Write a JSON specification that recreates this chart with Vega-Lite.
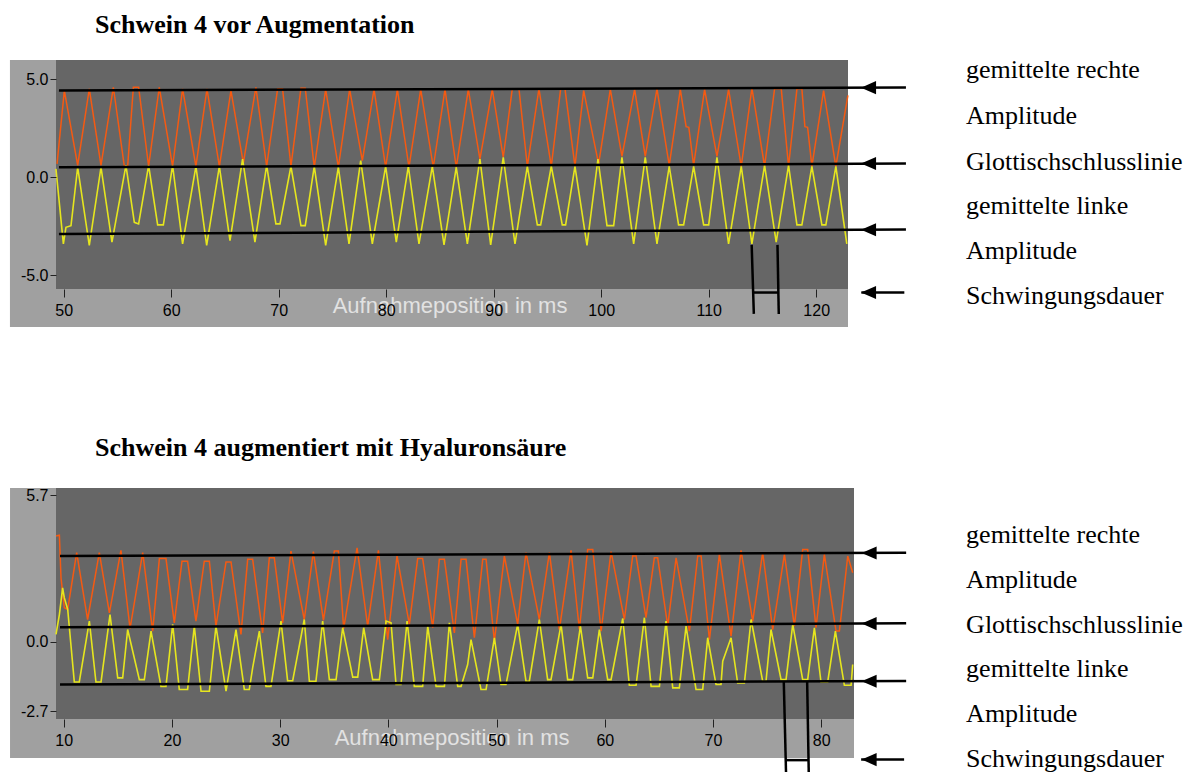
{
"$schema": "https://vega.github.io/schema/vega-lite/v6.json",
"background": "white",
"padding": {"left": 9, "top": 12, "right": 0, "bottom": 0},
"autosize": {"type": "pad"},
"spacing": 107,
"config": {
  "view": {"stroke": null, "fill": null},
  "axis": {"domain": false, "grid": false, "tickColor": "#222222", "labelColor": "black", "labelFont": "Liberation Sans", "labelFontSize": 16, "labelFontWeight": "normal", "labelOverlap": false},
  "title": {"font": "Liberation Serif", "fontSize": 26, "fontWeight": "bold", "color": "black", "anchor": "start", "frame": "group", "baseline": "alphabetic"},
  "text": {"font": "Liberation Serif", "fontSize": 26, "color": "black"}
},
"datasets": {
  "top_r": [{"t":49.38,"v":0.68},{"t":50.06,"v":4.42},{"t":51.30,"v":0.60},{"t":52.38,"v":4.51},{"t":53.47,"v":0.60},{"t":54.62,"v":4.59},{"t":55.64,"v":0.56},{"t":55.95,"v":0.56},{"t":56.48,"v":4.59},{"t":56.97,"v":4.59},{"t":57.90,"v":0.56},{"t":58.89,"v":4.59},{"t":60.13,"v":0.56},{"t":61.06,"v":4.51},{"t":62.30,"v":0.56},{"t":63.33,"v":4.51},{"t":64.48,"v":0.56},{"t":65.56,"v":4.42},{"t":66.71,"v":0.72},{"t":67.88,"v":4.59},{"t":68.88,"v":0.56},{"t":69.90,"v":4.51},{"t":70.36,"v":4.51},{"t":71.14,"v":0.56},{"t":72.07,"v":4.54},{"t":72.47,"v":4.54},{"t":73.31,"v":0.51},{"t":74.37,"v":4.48},{"t":75.55,"v":0.51},{"t":76.60,"v":4.48},{"t":77.78,"v":0.85},{"t":78.87,"v":4.48},{"t":79.95,"v":0.51},{"t":81.04,"v":4.48},{"t":82.12,"v":0.51},{"t":83.21,"v":4.48},{"t":84.38,"v":0.51},{"t":85.47,"v":4.48},{"t":86.52,"v":0.51},{"t":87.64,"v":4.48},{"t":88.72,"v":0.93},{"t":89.87,"v":4.48},{"t":90.89,"v":1.02},{"t":91.73,"v":4.51},{"t":92.35,"v":4.51},{"t":93.13,"v":0.56},{"t":94.21,"v":4.51},{"t":95.36,"v":0.56},{"t":96.23,"v":4.51},{"t":96.63,"v":4.51},{"t":97.56,"v":0.56},{"t":98.37,"v":4.42},{"t":99.76,"v":0.68},{"t":100.85,"v":4.48},{"t":101.93,"v":1.07},{"t":103.11,"v":4.48},{"t":104.10,"v":1.07},{"t":105.19,"v":4.51},{"t":106.33,"v":0.60},{"t":107.36,"v":4.48},{"t":107.90,"v":2.58},{"t":108.15,"v":2.55},{"t":108.60,"v":0.60},{"t":109.62,"v":4.48},{"t":110.77,"v":1.07},{"t":111.85,"v":4.48},{"t":113.03,"v":0.56},{"t":114.02,"v":4.54},{"t":115.20,"v":0.56},{"t":116.13,"v":4.51},{"t":116.75,"v":4.51},{"t":117.43,"v":0.56},{"t":118.21,"v":4.51},{"t":118.67,"v":4.51},{"t":118.95,"v":2.58},{"t":119.20,"v":2.55},{"t":119.60,"v":0.56},{"t":120.69,"v":4.42},{"t":121.83,"v":0.56},{"t":122.95,"v":4.17}],
  "top_l": [{"t":49.28,"v":0.43},{"t":49.97,"v":-3.40},{"t":50.21,"v":-2.55},{"t":50.68,"v":-2.47},{"t":51.30,"v":0.51},{"t":52.38,"v":-3.48},{"t":53.47,"v":0.51},{"t":54.49,"v":-3.31},{"t":55.79,"v":0.60},{"t":56.57,"v":-2.30},{"t":56.97,"v":-2.38},{"t":57.90,"v":0.60},{"t":58.74,"v":-2.43},{"t":59.27,"v":-2.43},{"t":60.13,"v":0.60},{"t":61.06,"v":-3.40},{"t":62.30,"v":0.56},{"t":63.30,"v":-3.48},{"t":64.48,"v":0.56},{"t":65.47,"v":-3.23},{"t":66.64,"v":0.93},{"t":67.79,"v":-3.31},{"t":68.88,"v":0.60},{"t":69.74,"v":-2.38},{"t":70.12,"v":-2.38},{"t":71.14,"v":0.56},{"t":72.07,"v":-2.47},{"t":72.47,"v":-2.47},{"t":73.31,"v":0.56},{"t":74.37,"v":-3.48},{"t":75.55,"v":0.51},{"t":76.54,"v":-3.40},{"t":77.63,"v":0.85},{"t":78.71,"v":-3.40},{"t":79.95,"v":0.56},{"t":80.94,"v":-3.31},{"t":82.06,"v":0.56},{"t":83.05,"v":-3.40},{"t":84.29,"v":0.56},{"t":85.38,"v":-3.45},{"t":86.52,"v":0.51},{"t":87.55,"v":-3.40},{"t":88.72,"v":0.93},{"t":89.72,"v":-3.45},{"t":90.89,"v":1.02},{"t":91.98,"v":-3.40},{"t":93.13,"v":0.56},{"t":94.06,"v":-2.43},{"t":94.37,"v":-2.43},{"t":95.36,"v":0.56},{"t":96.38,"v":-2.43},{"t":96.69,"v":-2.43},{"t":97.56,"v":0.56},{"t":98.68,"v":-3.48},{"t":99.70,"v":0.93},{"t":100.54,"v":-2.47},{"t":101.16,"v":-2.47},{"t":101.93,"v":1.02},{"t":103.02,"v":-3.40},{"t":104.10,"v":1.02},{"t":105.19,"v":-3.40},{"t":106.33,"v":0.56},{"t":107.20,"v":-2.43},{"t":107.67,"v":-2.43},{"t":108.60,"v":0.56},{"t":109.53,"v":-2.43},{"t":110.00,"v":-2.43},{"t":110.77,"v":1.02},{"t":111.85,"v":-3.40},{"t":113.03,"v":0.56},{"t":114.02,"v":-3.40},{"t":115.20,"v":0.60},{"t":116.28,"v":-3.31},{"t":117.43,"v":0.60},{"t":118.21,"v":-2.43},{"t":118.67,"v":-2.43},{"t":119.60,"v":0.56},{"t":120.53,"v":-2.43},{"t":120.90,"v":-2.43},{"t":121.83,"v":0.56},{"t":122.85,"v":-3.40}],
  "top_rules": [{"x":49.56,"y":4.42,"x2":128.35,"y2":4.58},{"x":49.56,"y":0.51,"x2":128.35,"y2":0.70},{"x":49.56,"y":-2.89,"x2":128.35,"y2":-2.67},{"x":124.2,"y":-5.88,"x2":128.2,"y2":-5.88},{"x":114.0,"y":-3.45,"x2":114.2,"y2":-6.97},{"x":116.4,"y":-3.45,"x2":116.52,"y2":-6.97},{"x":114.2,"y":-5.88,"x2":116.46,"y2":-5.88}],
  "top_arrows": [{"y":4.57},{"y":0.70},{"y":-2.68},{"y":-5.88}],
  "top_txt": [{"v":5.04,"s":"gemittelte rechte"},{"v":2.74,"s":"Amplitude"},{"v":0.36,"s":"Glottischschlusslinie"},{"v":-1.85,"s":"gemittelte linke"},{"v":-4.15,"s":"Amplitude"},{"v":-6.44,"s":"Schwingungsdauer"}],
  "bot_r": [{"t":9.29,"v":4.12},{"t":9.60,"v":4.15},{"t":9.75,"v":2.49},{"t":10.06,"v":1.33},{"t":10.37,"v":1.26},{"t":11.20,"v":3.47},{"t":12.21,"v":0.87},{"t":13.29,"v":3.47},{"t":14.22,"v":1.13},{"t":15.29,"v":3.56},{"t":16.13,"v":0.52},{"t":17.30,"v":3.47},{"t":18.22,"v":0.42},{"t":18.84,"v":3.24},{"t":19.45,"v":3.24},{"t":20.22,"v":0.74},{"t":20.93,"v":3.14},{"t":21.45,"v":3.14},{"t":22.22,"v":0.81},{"t":22.99,"v":3.14},{"t":23.46,"v":3.14},{"t":24.07,"v":0.61},{"t":25.00,"v":3.11},{"t":25.46,"v":3.11},{"t":26.38,"v":0.29},{"t":27.00,"v":3.21},{"t":27.46,"v":3.21},{"t":28.38,"v":0.35},{"t":29.00,"v":3.27},{"t":29.46,"v":3.27},{"t":30.23,"v":0.74},{"t":31.00,"v":3.53},{"t":32.23,"v":0.87},{"t":33.07,"v":3.51},{"t":34.00,"v":0.84},{"t":35.01,"v":3.53},{"t":35.38,"v":3.53},{"t":35.87,"v":0.52},{"t":37.11,"v":3.66},{"t":38.09,"v":0.61},{"t":39.08,"v":3.56},{"t":39.94,"v":0.09},{"t":40.80,"v":3.34},{"t":41.94,"v":0.68},{"t":42.71,"v":3.24},{"t":43.17,"v":3.24},{"t":44.10,"v":0.55},{"t":44.71,"v":3.21},{"t":45.18,"v":3.21},{"t":46.10,"v":0.35},{"t":46.72,"v":3.21},{"t":47.18,"v":3.21},{"t":47.95,"v":0.16},{"t":48.72,"v":3.21},{"t":49.03,"v":3.21},{"t":49.80,"v":0.03},{"t":50.72,"v":3.34},{"t":51.95,"v":0.68},{"t":52.72,"v":3.47},{"t":53.95,"v":0.87},{"t":54.88,"v":3.47},{"t":55.80,"v":0.48},{"t":56.88,"v":3.56},{"t":57.65,"v":0.48},{"t":58.42,"v":3.59},{"t":58.89,"v":3.59},{"t":59.66,"v":0.42},{"t":60.58,"v":3.51},{"t":61.81,"v":0.87},{"t":62.58,"v":3.34},{"t":62.89,"v":3.34},{"t":63.81,"v":0.94},{"t":64.58,"v":3.27},{"t":64.89,"v":3.27},{"t":65.82,"v":0.61},{"t":66.59,"v":3.27},{"t":67.82,"v":0.42},{"t":68.59,"v":3.34},{"t":68.90,"v":3.34},{"t":69.67,"v":0.09},{"t":70.59,"v":3.40},{"t":71.67,"v":0.22},{"t":72.59,"v":3.56},{"t":73.67,"v":0.81},{"t":74.59,"v":3.47},{"t":75.52,"v":0.48},{"t":76.60,"v":3.40},{"t":77.52,"v":0.61},{"t":78.29,"v":3.59},{"t":78.75,"v":3.59},{"t":79.52,"v":0.55},{"t":80.29,"v":3.40},{"t":81.37,"v":0.42},{"t":81.68,"v":0.42},{"t":82.45,"v":3.34},{"t":82.91,"v":2.69}],
  "bot_l": [{"t":9.29,"v":0.29},{"t":9.60,"v":1.06},{"t":9.90,"v":2.10},{"t":10.06,"v":1.71},{"t":10.37,"v":1.26},{"t":10.98,"v":-1.56},{"t":11.44,"v":-1.56},{"t":12.37,"v":0.81},{"t":12.98,"v":-1.56},{"t":13.45,"v":-1.56},{"t":14.28,"v":1.06},{"t":14.99,"v":-1.40},{"t":15.45,"v":-1.40},{"t":15.91,"v":0.48},{"t":16.99,"v":-1.47},{"t":17.45,"v":-1.47},{"t":18.07,"v":0.42},{"t":18.99,"v":-1.73},{"t":19.45,"v":-1.73},{"t":20.07,"v":0.68},{"t":20.68,"v":-1.85},{"t":21.45,"v":-1.85},{"t":22.07,"v":0.61},{"t":22.69,"v":-1.92},{"t":23.46,"v":-1.92},{"t":24.07,"v":0.61},{"t":25.00,"v":-1.92},{"t":25.92,"v":0.48},{"t":26.69,"v":-1.85},{"t":27.15,"v":-1.85},{"t":27.46,"v":-1.01},{"t":28.08,"v":0.42},{"t":28.69,"v":-1.73},{"t":29.15,"v":-1.73},{"t":30.08,"v":0.81},{"t":30.69,"v":-1.51},{"t":31.16,"v":-1.51},{"t":32.23,"v":0.87},{"t":32.70,"v":-1.53},{"t":33.31,"v":-1.53},{"t":33.93,"v":0.81},{"t":34.55,"v":-1.47},{"t":35.17,"v":-1.47},{"t":35.78,"v":0.55},{"t":36.71,"v":-1.37},{"t":37.17,"v":-1.37},{"t":37.72,"v":0.55},{"t":38.55,"v":-1.47},{"t":39.17,"v":-1.47},{"t":39.79,"v":0.81},{"t":40.25,"v":0.74},{"t":40.71,"v":-1.66},{"t":41.17,"v":-1.66},{"t":41.73,"v":0.81},{"t":42.40,"v":-1.73},{"t":43.17,"v":-1.73},{"t":43.64,"v":0.61},{"t":44.41,"v":-1.73},{"t":45.18,"v":-1.73},{"t":45.64,"v":0.74},{"t":46.41,"v":-1.73},{"t":46.72,"v":-1.73},{"t":47.33,"v":-0.88},{"t":47.64,"v":0.09},{"t":48.56,"v":-1.85},{"t":49.03,"v":-1.85},{"t":49.80,"v":0.16},{"t":50.41,"v":-1.66},{"t":50.87,"v":-1.66},{"t":51.95,"v":0.68},{"t":52.72,"v":-1.53},{"t":53.03,"v":-1.53},{"t":53.95,"v":0.87},{"t":54.72,"v":-1.47},{"t":55.03,"v":-1.47},{"t":55.96,"v":0.68},{"t":56.57,"v":-1.47},{"t":57.03,"v":-1.47},{"t":57.75,"v":0.61},{"t":58.42,"v":-1.40},{"t":58.89,"v":-1.40},{"t":59.50,"v":0.48},{"t":60.27,"v":-1.47},{"t":60.58,"v":-1.47},{"t":61.66,"v":0.91},{"t":62.27,"v":-1.69},{"t":62.89,"v":-1.69},{"t":63.66,"v":0.94},{"t":64.28,"v":-1.73},{"t":65.05,"v":-1.73},{"t":65.66,"v":0.81},{"t":66.28,"v":-1.79},{"t":66.89,"v":-1.79},{"t":67.51,"v":0.61},{"t":68.43,"v":-1.85},{"t":69.05,"v":-1.85},{"t":69.51,"v":0.16},{"t":70.28,"v":-1.66},{"t":70.74,"v":-1.66},{"t":70.90,"v":-0.75},{"t":71.67,"v":0.16},{"t":72.28,"v":-1.60},{"t":72.90,"v":-1.60},{"t":73.52,"v":0.87},{"t":74.59,"v":-1.53},{"t":74.90,"v":-1.53},{"t":75.36,"v":0.48},{"t":76.29,"v":-1.47},{"t":76.75,"v":-1.47},{"t":77.37,"v":0.68},{"t":78.29,"v":-1.47},{"t":78.75,"v":-1.47},{"t":79.37,"v":0.55},{"t":79.98,"v":-1.56},{"t":80.60,"v":-1.56},{"t":81.31,"v":0.42},{"t":82.14,"v":-1.69},{"t":82.76,"v":-1.69},{"t":82.91,"v":-0.88}],
  "bot_rules": [{"x":9.66,"y":3.34,"x2":87.85,"y2":3.47},{"x":9.66,"y":0.57,"x2":87.85,"y2":0.72},{"x":9.66,"y":-1.66,"x2":87.85,"y2":-1.52},{"x":83.69,"y":-4.58,"x2":87.66,"y2":-4.58},{"x":76.54,"y":-1.52,"x2":76.75,"y2":-5.11},{"x":78.70,"y":-1.52,"x2":78.85,"y2":-5.11},{"x":76.73,"y":-4.6,"x2":78.84,"y2":-4.6}],
  "bot_arrows": [{"y":3.46},{"y":0.71},{"y":-1.53},{"y":-4.58}],
  "bot_txt": [{"v":3.85,"s":"gemittelte rechte"},{"v":2.10,"s":"Amplitude"},{"v":0.35,"s":"Glottischschlusslinie"},{"v":-1.35,"s":"gemittelte linke"},{"v":-3.11,"s":"Amplitude"},{"v":-4.86,"s":"Schwingungsdauer"}]
},
"vconcat": [
  {
    "width": 792, "height": 229,
    "title": {"text": "Schwein 4 vor Augmentation", "dx": 39, "offset": 19},
    "layer": [
      {"data": {"values": [{}]}, "mark": {"type": "rect", "color": "#a0a0a0"},
       "encoding": {
         "x": {"datum": 45.0, "type": "quantitative", "scale": {"domain": [49.284, 122.96], "nice": false, "zero": false},
               "axis": {"values": [50,60,70,80,90,100,110,120], "tickSize": 8, "labelPadding": 5, "title": null, "zindex": 2}},
         "x2": {"datum": 122.96},
         "y": {"datum": -7.64, "type": "quantitative", "scale": {"domain": [-5.7, 5.98], "nice": false, "zero": false},
               "axis": {"values": [5, 0, -5], "tickSize": 6, "labelPadding": 2, "title": null, "zindex": 2, "labelExpr": "(datum.value < 0 ? '-' : '') + format(abs(datum.value), '.1f')"}},
         "y2": {"datum": 5.98}}},
      {"data": {"values": [{}]}, "mark": {"type": "rect", "color": "#666666"},
       "encoding": {"x": {"datum": 49.284, "type": "quantitative"}, "x2": {"datum": 122.96}, "y": {"datum": -5.7, "type": "quantitative"}, "y2": {"datum": 5.98}}},
      {"data": {"values": [{}]}, "mark": {"type": "text", "text": "Aufnahmeposition in ms", "font": "Liberation Sans", "fontSize": 22, "color": "#e2e2e2", "align": "center", "baseline": "middle"},
       "encoding": {"x": {"datum": 85.94, "type": "quantitative"}, "y": {"datum": -6.55, "type": "quantitative"}}},
      {"data": {"name": "top_r"}, "mark": {"type": "line", "color": "#f55a12", "strokeWidth": 1.5},
       "encoding": {"x": {"field": "t", "type": "quantitative"}, "y": {"field": "v", "type": "quantitative"}}},
      {"data": {"name": "top_l"}, "mark": {"type": "line", "color": "#e6e61e", "strokeWidth": 1.6},
       "encoding": {"x": {"field": "t", "type": "quantitative"}, "y": {"field": "v", "type": "quantitative"}}},
      {"data": {"name": "top_rules"}, "mark": {"type": "rule", "color": "black", "strokeWidth": 2.5},
       "encoding": {"x": {"field": "x", "type": "quantitative"}, "y": {"field": "y", "type": "quantitative"}, "x2": {"field": "x2"}, "y2": {"field": "y2"}}},
      {"data": {"name": "top_arrows"}, "mark": {"type": "point", "shape": "M-1,0L1,-0.87L1,0.87Z", "filled": true, "color": "black", "opacity": 1, "size": 225},
       "encoding": {"x": {"datum": 124.87, "type": "quantitative"}, "y": {"field": "y", "type": "quantitative"}}},
      {"data": {"name": "top_txt"}, "mark": {"type": "text", "align": "left", "baseline": "alphabetic"},
       "encoding": {"x": {"datum": 133.93, "type": "quantitative"}, "y": {"field": "v", "type": "quantitative"}, "text": {"field": "s"}}}
    ]
  },
  {
    "width": 798, "height": 231,
    "title": {"text": "Schwein 4 augmentiert mit Hyaluronsäure", "dx": 39, "offset": 26},
    "layer": [
      {"data": {"values": [{}]}, "mark": {"type": "rect", "color": "#a0a0a0"},
       "encoding": {
         "x": {"datum": 5.04, "type": "quantitative", "scale": {"domain": [9.288, 83.03], "nice": false, "zero": false},
               "axis": {"values": [10,20,30,40,50,60,70,80], "tickSize": 8, "labelPadding": 5, "title": null, "zindex": 2}},
         "x2": {"datum": 83.03},
         "y": {"datum": -4.52, "type": "quantitative", "scale": {"domain": [-3.0, 5.985], "nice": false, "zero": false},
               "axis": {"values": [5.7, 0, -2.7], "tickSize": 6, "labelPadding": 2, "title": null, "zindex": 2, "labelExpr": "(datum.value < 0 ? '-' : '') + format(abs(datum.value), '.1f')"}},
         "y2": {"datum": 5.985}}},
      {"data": {"values": [{}]}, "mark": {"type": "rect", "color": "#666666"},
       "encoding": {"x": {"datum": 9.288, "type": "quantitative"}, "x2": {"datum": 83.03}, "y": {"datum": -3.0, "type": "quantitative"}, "y2": {"datum": 5.985}}},
      {"data": {"values": [{}]}, "mark": {"type": "text", "text": "Aufnahmeposition in ms", "font": "Liberation Sans", "fontSize": 22, "color": "#e2e2e2", "align": "center", "baseline": "middle"},
       "encoding": {"x": {"datum": 45.89, "type": "quantitative"}, "y": {"datum": -3.75, "type": "quantitative"}}},
      {"data": {"name": "bot_r"}, "mark": {"type": "line", "color": "#f55a12", "strokeWidth": 1.5},
       "encoding": {"x": {"field": "t", "type": "quantitative"}, "y": {"field": "v", "type": "quantitative"}}},
      {"data": {"name": "bot_l"}, "mark": {"type": "line", "color": "#e6e61e", "strokeWidth": 1.6},
       "encoding": {"x": {"field": "t", "type": "quantitative"}, "y": {"field": "v", "type": "quantitative"}}},
      {"data": {"name": "bot_rules"}, "mark": {"type": "rule", "color": "black", "strokeWidth": 2.5},
       "encoding": {"x": {"field": "x", "type": "quantitative"}, "y": {"field": "y", "type": "quantitative"}, "x2": {"field": "x2"}, "y2": {"field": "y2"}}},
      {"data": {"name": "bot_arrows"}, "mark": {"type": "point", "shape": "M-1,0L1,-0.87L1,0.87Z", "filled": true, "color": "black", "opacity": 1, "size": 225},
       "encoding": {"x": {"datum": 84.43, "type": "quantitative"}, "y": {"field": "y", "type": "quantitative"}}},
      {"data": {"name": "bot_txt"}, "mark": {"type": "text", "align": "left", "baseline": "alphabetic"},
       "encoding": {"x": {"datum": 93.39, "type": "quantitative"}, "y": {"field": "v", "type": "quantitative"}, "text": {"field": "s"}}}
    ]
  }
]
}
